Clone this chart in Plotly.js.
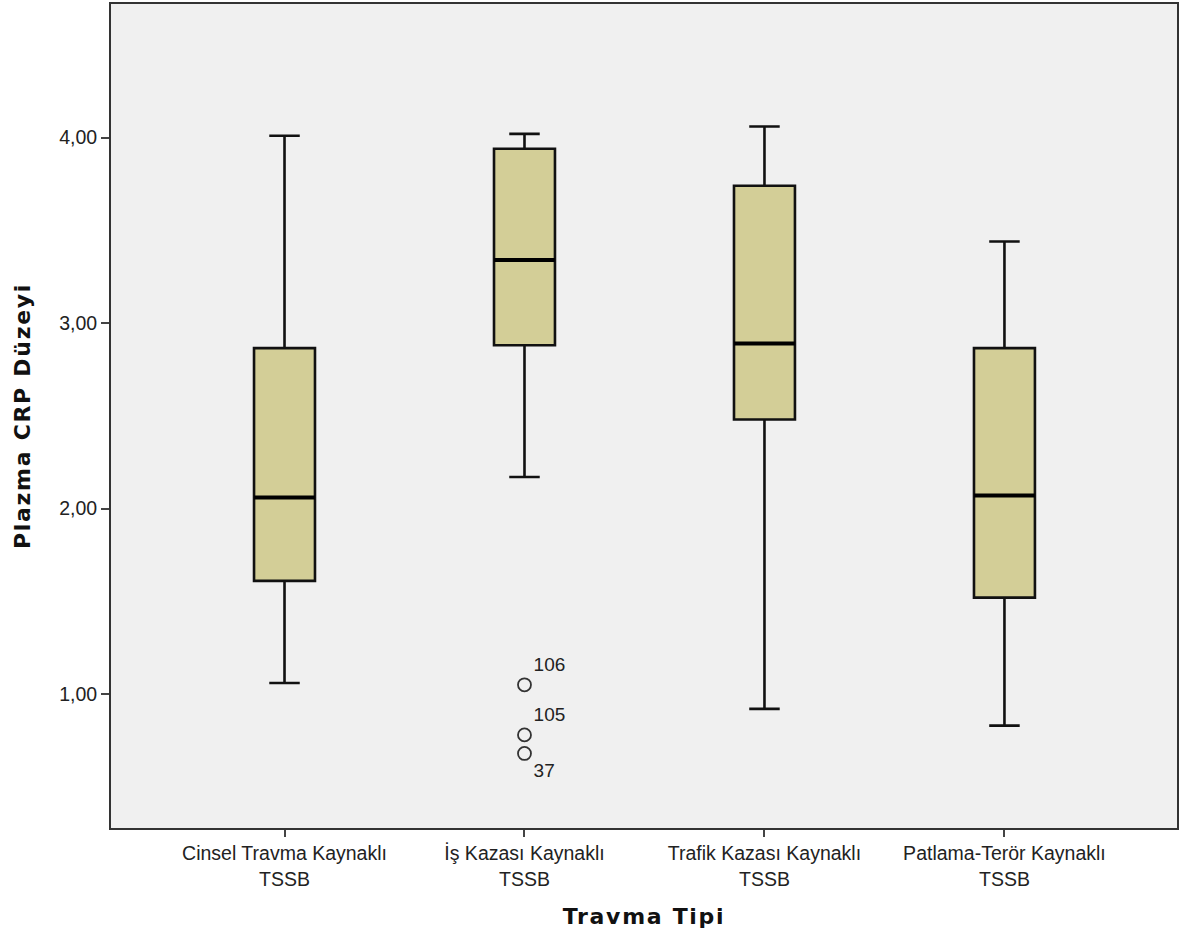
<!DOCTYPE html>
<html>
<head>
<meta charset="utf-8">
<script src="https://cdn.plot.ly/plotly-3.0.1.min.js"></script>
<style>
html,body{margin:0;padding:0;background:#fff;}
#chart{width:1181px;height:942px;}
.xtitle,.ytitle{letter-spacing:1.7px;}
</style>
</head>
<body>
<div id="chart"></div>
<script>
const categories = ["Cinsel Travma Kaynaklı<br>TSSB", "İş Kazası Kaynaklı<br>TSSB", "Trafik Kazası Kaynaklı<br>TSSB", "Patlama-Terör Kaynaklı<br>TSSB"];
const positions = [0, 1, 2, 3];
const lowerWhisker = [1.06, 2.17, 0.92, 0.83];
const q1 = [1.61, 2.88, 2.48, 1.52];
const median = [2.06, 3.34, 2.89, 2.07];
const q3 = [2.865, 3.94, 3.74, 2.865];
const upperWhisker = [4.01, 4.02, 4.06, 3.44];
const outlierCategory = [1, 1, 1];
const outlierValues = [1.05, 0.78, 0.68];
const outlierLabels = ["106", "105", "37"];
const outlierLabelPos = ["top right", "top right", "bottom right"];
const yTicks = [1, 2, 3, 4];

const tickFont = {family: 'Liberation Sans, Arial, sans-serif', size: 19.5, color: '#222'};
const titleFont = {family: 'DejaVu Sans, sans-serif', size: 22, color: '#111', weight: 'bold'};

const boxTrace = {
  type: 'box',
  x: positions,
  q1: q1,
  median: median,
  q3: q3,
  lowerfence: lowerWhisker,
  upperfence: upperWhisker,
  width: 0.254,
  whiskerwidth: 0.5,
  fillcolor: '#d3ce97',
  line: {color: '#111111', width: 2.6},
  boxpoints: false,
  hoverinfo: 'skip',
  showlegend: false
};

const medianTrace = {
  type: 'scatter',
  mode: 'markers',
  x: positions,
  y: median,
  marker: {symbol: 'line-ew', size: 43.5, color: '#000', line: {width: 4, color: '#000'}},
  hoverinfo: 'skip',
  showlegend: false
};

const outlierTrace = {
  type: 'scatter',
  mode: 'markers+text',
  x: outlierCategory,
  y: outlierValues,
  text: outlierLabels,
  textposition: outlierLabelPos,
  textfont: {family: 'Liberation Sans, Arial, sans-serif', size: 19, color: '#222'},
  marker: {symbol: 'circle-open', size: 13, color: '#333', line: {width: 1.8, color: '#333'}},
  showlegend: false,
  cliponaxis: false
};

const layout = {
  width: 1181,
  height: 942,
  margin: {l: 111, r: 4, t: 4, b: 114},
  paper_bgcolor: '#ffffff',
  plot_bgcolor: '#f0f0f0',
  separators: ',.',
  showlegend: false,
  xaxis: {
    range: [-0.723, 3.719],
    tickvals: positions,
    ticktext: categories,
    ticks: 'outside',
    ticklen: 7,
    tickwidth: 2,
    tickcolor: '#444',
    showgrid: false,
    zeroline: false,
    showline: true,
    linecolor: '#333',
    linewidth: 2,
    mirror: true,
    tickfont: tickFont,
    title: {text: 'Travma Tipi', font: titleFont, standoff: 20}
  },
  yaxis: {
    range: [0.278, 4.72],
    tickvals: yTicks,
    tickformat: '.2f',
    ticks: 'outside',
    ticklen: 8,
    tickwidth: 2,
    tickcolor: '#444',
    showgrid: false,
    zeroline: false,
    showline: true,
    linecolor: '#333',
    linewidth: 2,
    mirror: true,
    tickfont: tickFont,
    title: {text: 'Plazma CRP Düzeyi', font: titleFont, standoff: 22}
  }
};

Plotly.newPlot('chart', [boxTrace, medianTrace, outlierTrace], layout, {staticPlot: true, displayModeBar: false});
</script>
</body>
</html>
